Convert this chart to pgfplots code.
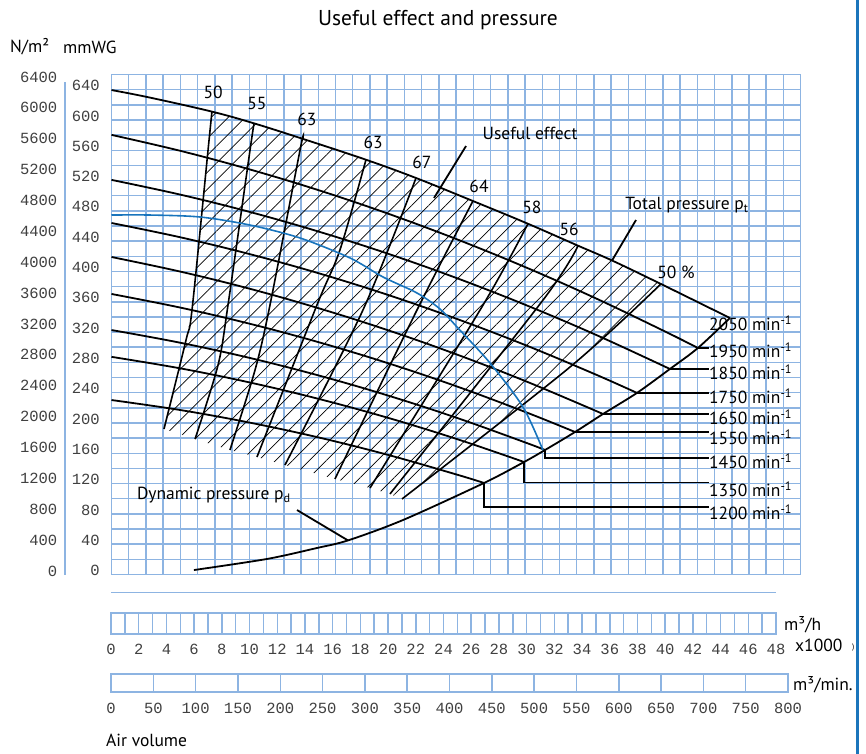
\documentclass[border=0pt]{standalone}
\usepackage{fontspec}
\setmainfont{PT Sans}
\newfontfamily\monofont{Liberation Mono}
\usepackage{pgfplots}
\pgfplotsset{compat=1.18}
\usetikzlibrary{patterns.meta}

\definecolor{gridblue}{RGB}{141,180,226}
\definecolor{curveblue}{RGB}{24,116,188}
\definecolor{frameblue}{RGB}{27,117,187}

\newcommand{\numfont}{\monofont\fontsize{15.5}{16}\selectfont\color{black!75}}
\newcommand{\lbl}{\fontsize{17.5}{20}\selectfont}

\begin{document}
\begin{tikzpicture}
\path[use as bounding box] (-111.5pt,-178.5pt) rectangle (754.5pt,574.5pt);

% paper grid with the mmWG scale
\begin{axis}[
  at={(0pt,0pt)}, anchor=south west, scale only axis,
  width=689.2pt, height=500pt,
  xmin=0, xmax=40, ymin=0, ymax=33,
  xtick={0,...,40}, xticklabels={},
  ytick={0,2,...,32},
  yticklabels={0,40,80,120,160,200,240,280,320,360,400,440,480,520,560,600,640},
  minor ytick={1,3,...,33},
  grid=both,
  grid style={gridblue, line width=1.5pt},
  minor grid style={gridblue, line width=1.5pt},
  major tick length=0pt, minor tick length=0pt,
  axis line style={gridblue, line width=1.5pt},
  yticklabel style={font=\numfont, anchor=east, inner sep=0pt, xshift=-11.5pt, yshift=4pt},
]
\addplot[draw=none] coordinates {(0,0)};
\end{axis}

% N/m^2 scale
\begin{axis}[
  at={(0pt,0pt)}, anchor=south west, scale only axis,
  width=689.2pt, height=500pt,
  xmin=0, xmax=1, ymin=-45.3, ymax=6432,
  xtick=\empty,
  ytick={0,400,...,6400},
  yticklabels={0,400,800,1200,1600,2000,2400,2800,3200,3600,4000,4400,4800,5200,5600,6000,6400},
  axis line style={draw=none}, major tick length=0pt,
  yticklabel style={font=\numfont, anchor=east, inner sep=0pt, xshift=-54pt},
]
\addplot[draw=none] coordinates {(0,0)};
\end{axis}

% characteristic curves: x in 1000 m^3/h, y in mmWG
\begin{axis}[
  at={(0pt,0pt)}, anchor=south west, scale only axis,
  width=689.2pt, height=500pt,
  xmin=0, xmax=49.75, ymin=0, ymax=660,
  hide axis, clip=false,
]
% hatched operating field
\addplot[draw=none, pattern={Lines[angle=45, distance=12pt, line width=0.7pt]}, pattern color=black]
coordinates {
 (7.25,611) (10.29,595.5) (13.82,575) (18.37,547.5) (21.98,523.4) (26.09,493)
 (30.06,463) (33.68,434) (36.13,414.5) (39.66,383.5)
 (33.10,273.9) (20.97,99.7)
 (20.10,106.3) (18.66,114.2) (16.13,126.1) (12.52,144.5) (10.50,155.1) (8.55,164.3) (6.03,178.8) (3.79,192.1)
 (5.38,309.5) (5.81,349.1) (6.97,560.3)
};

% efficiency lines
\pgfplotsset{eff/.style={black, line width=1.6pt, smooth, tension=0.5}}
\addplot[eff] coordinates {(7.25,611) (6.97,560.3) (5.81,349.1) (5.38,309.5) (3.79,192.1)};
\addplot[eff] coordinates {(10.29,595.5) (10.00,560.3) (8.41,355.7) (7.69,276.5) (6.03,178.8)};
\addplot[eff] coordinates {(13.82,575) (13.61,560.3) (11.44,355.7) (10.36,269.9) (8.55,164.3)};
\addplot[eff] coordinates {(18.37,547.5) (16.49,428.4) (14.83,355.7) (10.50,155.1)};
\addplot[eff] coordinates {(21.98,523.4) (18.15,349.1) (12.52,144.5)};
\addplot[eff] coordinates {(26.09,493) (22.05,349.1) (16.13,126.1)};
\addplot[eff] coordinates {(30.06,463) (26.82,355.7) (18.66,114.2)};
\addplot[eff] coordinates {(33.68,434) (31.15,362.3) (20.10,106.3)};
\addplot[eff] coordinates {(39.66,383.5) (33.10,273.9) (20.97,99.7)};

% total pressure at constant speed
\pgfplotsset{spd/.style={black, line width=1.8pt, smooth, tension=0.6}}
\addplot[spd] coordinates {(0,639.5) (2.78,629.5) (7.25,611) (10.29,595.5) (13.82,575) (18.37,547.5) (21.98,523.4) (26.09,493) (30.06,463) (33.68,434) (36.13,414.5) (39.66,383.5) (44.64,338.6)};
\addplot[spd] coordinates {(0,580.3) (5,559.1) (10,534.6) (15,507.0) (20,476.1) (25,442.0) (30,404.7) (35,364.2) (40,320.4) (42.33,299.0)};
\addplot[spd] coordinates {(0,520.9) (5,501.3) (10,478.5) (15,452.4) (20,423.2) (25,390.7) (30,355.0) (35,316.1) (40.31,271.3)};
\addplot[spd] coordinates {(0,464.0) (5,445.0) (10,422.8) (15,397.4) (20,368.8) (25,336.9) (30,301.9) (35,263.6) (37.93,239.7)};
\addplot[spd] coordinates {(0,419.1) (5,399.7) (10,377.1) (15,351.2) (20,322.2) (25,289.9) (30,254.4) (35.48,211.9)};
\addplot[spd] coordinates {(0,370.3) (5,352.2) (10,330.9) (15,306.4) (20,278.7) (25,247.8) (30,213.6) (33.46,188.1)};
\addplot[spd] coordinates {(0,322.7) (5,305.8) (10,285.8) (15,262.5) (20,236.0) (25,206.3) (30,173.4) (31.29,164.3)};
\addplot[spd] coordinates {(0,287.3) (5,272.0) (10,253.4) (15,231.6) (20,206.6) (25,178.4) (29.78,148.5)};
\addplot[spd] coordinates {(0,230.3) (5,217.0) (10,200.4) (15,180.7) (20,157.7) (25,131.5) (26.89,120.8)};

% dynamic pressure
\addplot[black, line width=1.8pt, smooth] coordinates {(5.95,5.9) (11.22,20.5) (14.83,35.0) (17.07,45) (21.04,71.9) (26.89,120.8) (29.78,148.5) (31.29,164.3) (33.46,188.1) (35.48,211.9) (37.93,239.7) (40.31,271.3) (42.33,299.0) (44.64,338.6)};

% system curve
\addplot[curveblue, line width=1.6pt, smooth] coordinates {(0,474.5) (2.78,474.5) (6.39,471.9) (9.99,461.3) (13.61,444.2) (17.22,417.8) (19.60,392.7) (22.05,371.6) (23.71,350.5) (24.94,326.7) (27.32,279.2) (29.70,221.1) (31.14,164.3)};

% leaders to the speed labels
\pgfplotsset{ldr/.style={black, line width=1.4pt}}
\addplot[ldr] coordinates {(42.33,299.0) (43.1,299.0)};
\addplot[ldr] coordinates {(40.31,271.3) (43.1,271.3)};
\addplot[ldr] coordinates {(37.93,239.7) (43.1,239.7)};
\addplot[ldr] coordinates {(35.48,211.9) (43.1,211.9)};
\addplot[ldr] coordinates {(33.46,188.1) (43.1,188.1)};
\addplot[ldr] coordinates {(31.29,164.3) (31.29,153.8) (43.1,153.8)};
\addplot[ldr] coordinates {(29.78,148.5) (29.78,121.4) (43.1,121.4)};
\addplot[ldr] coordinates {(26.89,120.8) (26.89,89.1) (43.1,89.1)};

% label pointers
\addplot[black, line width=1.8pt] coordinates {(25.59,565.6) (23.28,497.0)};
\addplot[black, line width=1.8pt] coordinates {(37.86,467.9) (36.13,414.5)};
\addplot[black, line width=1.8pt] coordinates {(13.39,85.1) (17.07,45)};

% speed labels
\begin{scope}[every node/.style={font=\lbl, anchor=west, inner sep=0pt}]
\node at (axis cs:43.13,332.0) {2050 min\textsuperscript{-1}};
\node at (axis cs:43.13,296.3) {1950 min\textsuperscript{-1}};
\node at (axis cs:43.13,267.3) {1850 min\textsuperscript{-1}};
\node at (axis cs:43.13,235.6) {1750 min\textsuperscript{-1}};
\node at (axis cs:43.13,207.9) {1650 min\textsuperscript{-1}};
\node at (axis cs:43.13,181.5) {1550 min\textsuperscript{-1}};
\node at (axis cs:43.13,149.8) {1450 min\textsuperscript{-1}};
\node at (axis cs:43.13,112.9) {1350 min\textsuperscript{-1}};
\node at (axis cs:43.13,82.5) {1200 min\textsuperscript{-1}};
\node at (axis cs:37.07,487.7) {Total pressure p\textsubscript{t}};
\node at (axis cs:1.84,104.9) {Dynamic pressure p\textsubscript{d}};
\end{scope}
\begin{scope}[every node/.style={font=\lbl, inner sep=0pt}]
\node at (axis cs:7.33,636.9) {50};
\node at (axis cs:10.50,621.1) {55};
\node at (axis cs:14.11,601.3) {63};
\node at (axis cs:18.88,571.0) {63};
\node at (axis cs:22.41,544.5) {67};
\node at (axis cs:26.53,512.8) {64};
\node at (axis cs:30.35,485.1) {58};
\node at (axis cs:33.03,456.1) {56};
\node at (axis cs:40.75,399.3) {50 \%};
\node at (axis cs:30.21,582.8) {Useful effect};
\end{scope}
\end{axis}

% air volume, 1000 m^3/h
\begin{axis}[
  at={(-0.5pt,-59.5pt)}, anchor=south west, scale only axis,
  width=665pt, height=21pt,
  xmin=0, xmax=48, ymin=0, ymax=1,
  xtick={0,2,...,48},
  xticklabels={0,2,4,6,8,10,12,14,16,18,20,22,24,26,28,30,32,34,36,38,40,42,44,46,48},
  minor xtick={1,3,...,47}, ytick=\empty,
  grid=both,
  grid style={gridblue, line width=1.5pt},
  minor grid style={gridblue, line width=1.5pt},
  major tick length=0pt, minor tick length=0pt,
  axis line style={gridblue, line width=1.5pt},
  xticklabel style={font=\numfont, anchor=center, inner sep=0pt, yshift=-15pt},
]
\addplot[draw=none] coordinates {(0,0)};
\end{axis}

% air volume, m^3/min
\begin{axis}[
  at={(-0.5pt,-117.5pt)}, anchor=south west, scale only axis,
  width=677pt, height=18pt,
  xmin=0, xmax=800, ymin=0, ymax=1,
  xtick={0,50,...,800},
  xticklabels={0,50,100,150,200,250,300,350,400,450,500,550,600,650,700,750,800},
  ytick=\empty,
  grid=major,
  grid style={gridblue, line width=1.5pt},
  major tick length=0pt,
  axis line style={gridblue, line width=1.5pt},
  xticklabel style={font=\numfont, anchor=center, inner sep=0pt, yshift=-16pt},
]
\addplot[draw=none] coordinates {(0,0)};
\end{axis}

% scale rules and frame
\draw[gridblue, line width=1.5pt] (-0.5pt,-18.2pt) -- (664.5pt,-18.2pt);
\draw[gridblue, line width=1.6pt] (-46.5pt,0pt) -- (-46.5pt,492.5pt);
\draw[frameblue, line width=2.4pt] (746pt,-180pt) -- (746pt,576pt);

% titles and units
\node[font=\fontsize{21.5}{24}\selectfont] at (326.5pt,554.5pt) {Useful effect and pressure};
\node[font=\lbl, anchor=west, inner sep=0pt] at (-101.5pt,527.5pt) {N/m²};
\node[font=\lbl, anchor=west, inner sep=0pt] at (-48.5pt,527.5pt) {mmWG};
\node[font=\lbl, anchor=west, inner sep=0pt] at (672.5pt,-50.5pt) {m³/h};
\node[font=\lbl, anchor=west, inner sep=0pt] at (683.5pt,-70.5pt) {x1000};
\node[font=\fontsize{8}{9}\selectfont, anchor=west, inner sep=0pt] at (740.5pt,-73.5pt) {)};
\node[font=\lbl, anchor=west, inner sep=0pt] at (681.5pt,-110.5pt) {m³/min.};
\node[font=\lbl, anchor=west, inner sep=0pt] at (-5.5pt,-165.5pt) {Air volume};
\end{tikzpicture}
\end{document}
